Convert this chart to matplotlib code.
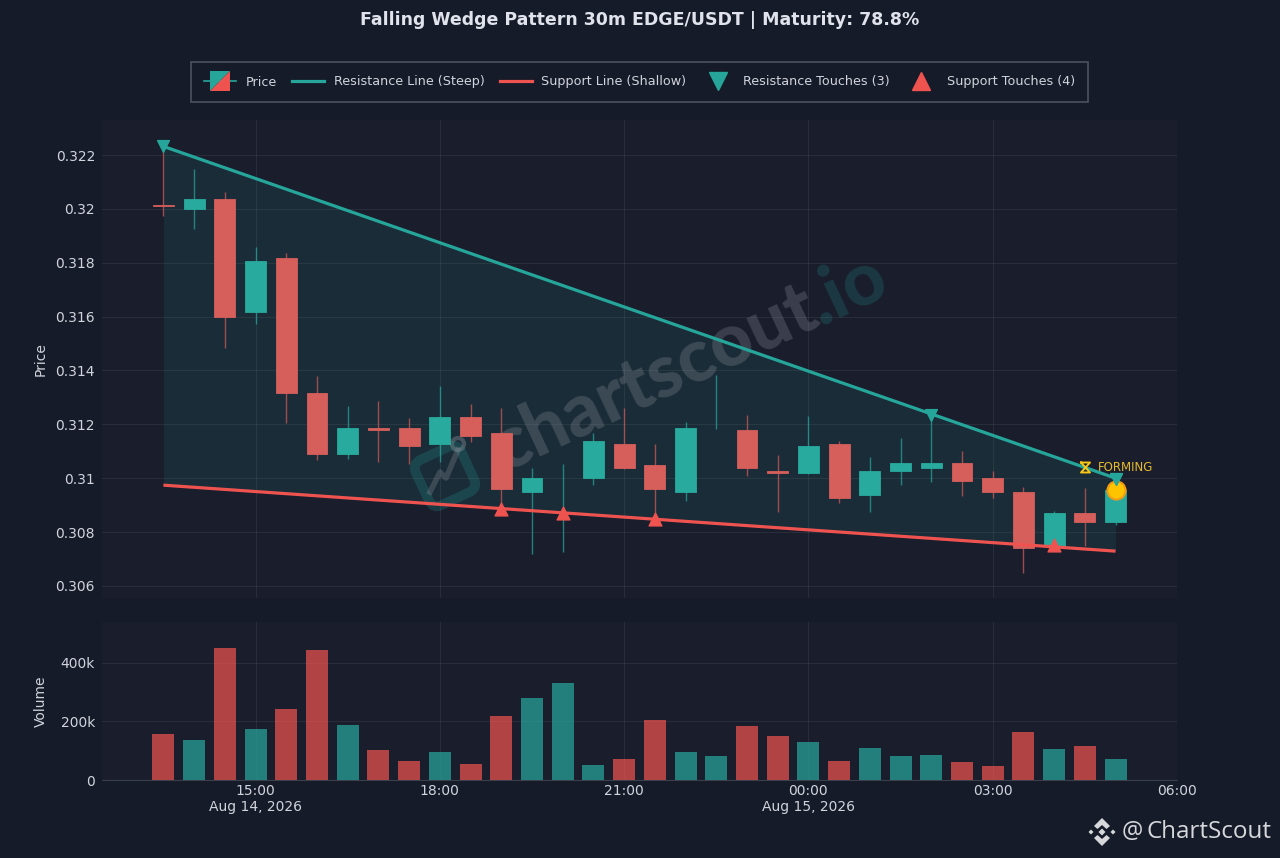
import numpy as np
import pandas as pd
import matplotlib
matplotlib.use('Agg')
import matplotlib.pyplot as plt
import matplotlib.dates as mdates
from matplotlib.legend_handler import HandlerBase
from matplotlib.lines import Line2D
from matplotlib.patches import FancyBboxPatch, Polygon, Circle, Rectangle
from matplotlib.transforms import Affine2D

# Candle data
times = pd.date_range('2026-08-14 13:30', periods=32, freq='30min')
opens = [.32015, .31999, .32035, .31616, .31816, .31318, .31088, .31186, .31186, .31127, .31226,
         .31167, .30949, .3089, .30999, .31126, .31048, .30949, .3119, .31178, .31025, .31019,
         .31126, .30938, .31027, .31037, .31058, .30999, .30948, .30748, .30869, .30838]
closes = [.3201, .32037, .31597, .31806, .31318, .31088, .31186, .31178, .31119, .31226, .31158,
          .30959, .30999, .3089, .31137, .31038, .30959, .31186, .3119, .31038, .31018, .31118,
          .30928, .31027, .31058, .31058, .30988, .30949, .30739, .30869, .30838, .30955]
highs = [.32232, .32149, .32062, .31858, .31836, .31378, .31267, .31287, .31223, .31341, .31277,
         .31259, .31036, .31051, .31168, .31259, .31126, .31209, .31382, .31236, .31085, .3123,
         .31137, .31079, .3115, .31241, .31101, .31027, .30968, .30878, .30962, .3100]
lows = [.31975, .31927, .31482, .31571, .31205, .31067, .31073, .3106, .31052, .3106, .31135,
        .30907, .30717, .30727, .30974, .31035, .30852, .30915, .31184, .31007, .30875, .31015,
        .30906, .30875, .30973, .30985, .30934, .30926, .30649, .3074, .30748, .30826]
volumes = [157, 137, 451, 174, 243, 444, 188, 103, 65, 96, 55, 219, 280, 332, 51, 72,
           205, 96, 82, 185, 150, 130, 65, 109, 82, 85, 62, 48, 164, 106, 116, 72]

resistance_ends = [.32232, .3100]
support_ends = [.30974, .30729]
resistance_idx = [0, 25, 31]
resistance_px = [.32232, .31234, .30996]
support_idx = [11, 13, 16, 29]
support_px = [.30887, .30872, .3085, .3075]
current_price = .30955

price_ticks = [.306, .308, .31, .312, .314, .316, .318, .32, .322]
price_labels = ['0.306', '0.308', '0.31', '0.312', '0.314', '0.316', '0.318', '0.32', '0.322']
vol_ticks = [0, 200, 400]
vol_labels = ['0', '200k', '400k']
date_ticks = pd.to_datetime(['2026-08-14 15:00', '2026-08-14 18:00', '2026-08-14 21:00',
                             '2026-08-15 00:00', '2026-08-15 03:00', '2026-08-15 06:00'])
date_labels = ['15:00\nAug 14, 2026', '18:00', '21:00', '00:00\nAug 15, 2026', '03:00', '06:00']

BG = '#151b28'
PANEL = '#191d2c'
TEAL = '#26a69a'
RED = '#ef5350'
BODY_UP = '#28ab9e'
BODY_DOWN = '#d65f5b'
TXT = '#d1d4dc'
W, H = 1280, 858

fig = plt.figure(figsize=(12.8, 8.58), dpi=100, facecolor=BG)
ax = fig.add_axes([102 / W, 1 - 598 / H, 1075 / W, 478 / H], facecolor=PANEL)
axv = fig.add_axes([102 / W, 1 - 780 / H, 1075 / W, 158 / H], facecolor=PANEL, sharex=ax)

x = mdates.date2num(times)
step = x[1] - x[0]
w = step * 0.68
up = np.array(closes) >= np.array(opens)

# Wedge
ends = [x[0], x[-1]]
ax.fill_between(ends, resistance_ends, support_ends, color=TEAL, alpha=0.11, lw=0, zorder=1)

# Watermark sits under the candles
px = Affine2D().scale(1, -1).translate(0, H)
wm = dict(transform=px, rotation_mode='anchor', zorder=2, clip_on=False)
ax.text(505, 472, 'chartscout', fontsize=53, family='Lato', weight='black', color='#8a8f98',
        alpha=0.3, rotation=25, ha='left', va='baseline', **wm)
ax.text(820, 326, '.io', fontsize=53, family='Lato', weight='black', color=TEAL,
        alpha=0.2, rotation=25, ha='left', va='baseline', **wm)
rot = Affine2D().rotate_deg_around(445, 476, -25) + px
ax.add_patch(FancyBboxPatch((420, 451), 50, 50, boxstyle='round,pad=0,rounding_size=10', fill=False,
                            ec=TEAL, alpha=0.22, lw=7, transform=rot, zorder=2, clip_on=False))
ax.add_line(Line2D([430, 440, 446, 458], [492, 472, 478, 450], color='#8a8f98', alpha=0.3, lw=4,
                   transform=px, zorder=2))
ax.add_patch(Circle((458, 444), 6, fill=False, ec='#8a8f98', alpha=0.4, lw=3, transform=px, zorder=2,
                    clip_on=False))

# Candles
for i in range(len(x)):
    c = BODY_UP if up[i] else BODY_DOWN
    ax.vlines(x[i], lows[i], highs[i], color=c, lw=1, alpha=0.7, zorder=3)
    lo, hi = min(opens[i], closes[i]), max(opens[i], closes[i])
    if hi > lo:
        ax.add_patch(Rectangle((x[i] - w / 2, lo), w, hi - lo, fc=c, ec=c, lw=0.6, zorder=4))

ax.plot(ends, resistance_ends, color=TEAL, lw=2.3, solid_capstyle='butt', zorder=5)
ax.plot(ends, support_ends, color=RED, lw=2.3, solid_capstyle='butt', zorder=5)
ax.scatter(x[resistance_idx], resistance_px, marker='v', s=72, color=TEAL, zorder=6)
ax.scatter(x[support_idx], support_px, marker='^', s=85, color=RED, zorder=6)
ax.scatter(x[-1], current_price, s=170, color='#ffc400', edgecolor='#f39c12', lw=1.5, zorder=5.5)
ax.scatter(x[-1], resistance_px[-1], marker='v', s=72, color=TEAL, zorder=6)
ax.annotate('FORMING', (x[-1], resistance_ends[-1]), xytext=(-18, 11), textcoords='offset pixels',
            color='#e6bb2c', fontsize=8.5, ha='left', va='center', zorder=7)
# no installed font has the hourglass sign, so it is drawn as a shape
ax.add_line(Line2D([1081, 1090, 1081, 1090, 1081], [462.5, 462.5, 472.5, 472.5, 462.5], color='#f5c518',
                   lw=1.4, transform=px, zorder=7, clip_on=False))

# Volume
axv.bar(x, volumes, width=step * 0.72, color=[TEAL if u else RED for u in up], alpha=0.72, zorder=3)

ax.set_xlim(mdates.date2num(pd.Timestamp('2026-08-14 12:30')), mdates.date2num(date_ticks[-1]))
ax.set_ylim(0.30555, 0.3233)
axv.set_ylim(0, 540)

ax.set_yticks(price_ticks, price_labels)
axv.set_yticks(vol_ticks, vol_labels)
axv.set_xticks(mdates.date2num(date_ticks), date_labels)
ax.tick_params(labelbottom=False)
ax.set_ylabel('Price', color=TXT, fontsize=10)
axv.set_ylabel('Volume', color=TXT, fontsize=10)
ax.yaxis.set_label_coords(-54 / 1075, 0.5)
axv.yaxis.set_label_coords(-54 / 1075, 0.5)

for a in (ax, axv):
    a.grid(True, color='white', alpha=0.07, lw=0.8, zorder=0)
    a.set_axisbelow(True)
    a.tick_params(length=0, colors=TXT, labelsize=10, pad=5)
    for s in a.spines.values():
        s.set_visible(False)
axv.tick_params(axis='x', pad=3)
axv.spines['bottom'].set_visible(True)
axv.spines['bottom'].set_color('#3a3f4b')


class CandleHandler(HandlerBase):
    def create_artists(self, legend, orig, xd, yd, width, height, fontsize, trans):
        cx = width / 2 - xd
        cy = height / 2 - yd
        s = height * 1.1
        line = Line2D([-xd, width - xd], [cy, cy], color=TEAL, lw=1.2, transform=trans)
        a = Polygon([(cx - s, cy - s), (cx - s, cy + s), (cx + s, cy + s)], fc=TEAL, lw=0, transform=trans)
        b = Polygon([(cx - s, cy - s), (cx + s, cy - s), (cx + s, cy + s)], fc=RED, lw=0, transform=trans)
        return [line, a, b]


handles = [Line2D([], []),
           Line2D([], [], color=TEAL, lw=2.3),
           Line2D([], [], color=RED, lw=2.3),
           Line2D([], [], marker='v', color=TEAL, ls='', ms=13),
           Line2D([], [], marker='^', color=RED, ls='', ms=13)]
labels = ['Price', 'Resistance Line (Steep)', 'Support Line (Shallow)',
          'Resistance Touches (3)', 'Support Touches (4)']
leg = fig.legend(handles, labels, handler_map={handles[0]: CandleHandler()}, ncol=5, loc='center',
                 bbox_to_anchor=(639.5 / W, 1 - 82 / H), fontsize=9.2, frameon=True, facecolor=BG,
                 edgecolor='#5a5f6b', fancybox=False, labelcolor=TXT, columnspacing=1.2,
                 handlelength=2.5, handletextpad=0.75, borderpad=1.05)
leg.get_frame().set_linewidth(1.2)

fig.text(640 / W, 1 - 20 / H, 'Falling Wedge Pattern 30m EDGE/USDT | Maturity: 78.8%', color='#e0e3eb',
         fontsize=12.5, weight='bold', ha='center', va='center')

# Bottom right logo
logo = '#d6d8dc'
for cx, cy, r in [(1091, 832, 2.5), (1113, 832, 2.5), (1102, 832, 3.5)]:
    fig.add_artist(Polygon([(cx - r, cy), (cx, cy - r), (cx + r, cy), (cx, cy + r)], fc=logo, lw=0,
                           transform=px))
fig.add_artist(Polygon([(1102, 818), (1110, 826), (1106.5, 829), (1102, 825), (1097.5, 829), (1094, 826)],
                       fc=logo, lw=0, transform=px))
fig.add_artist(Polygon([(1102, 846), (1110, 838), (1106.5, 835), (1102, 839), (1097.5, 835), (1094, 838)],
                       fc=logo, lw=0, transform=px))
fig.text(1122 / W, 1 - 832 / H, '@', color=logo, fontsize=17, family='Open Sans', ha='left', va='center')
fig.text(1147 / W, 1 - 832 / H, 'ChartScout', color=logo, fontsize=17.4, family='Open Sans', ha='left',
         va='center')

fig.savefig('out.png', dpi=100, facecolor=BG)
